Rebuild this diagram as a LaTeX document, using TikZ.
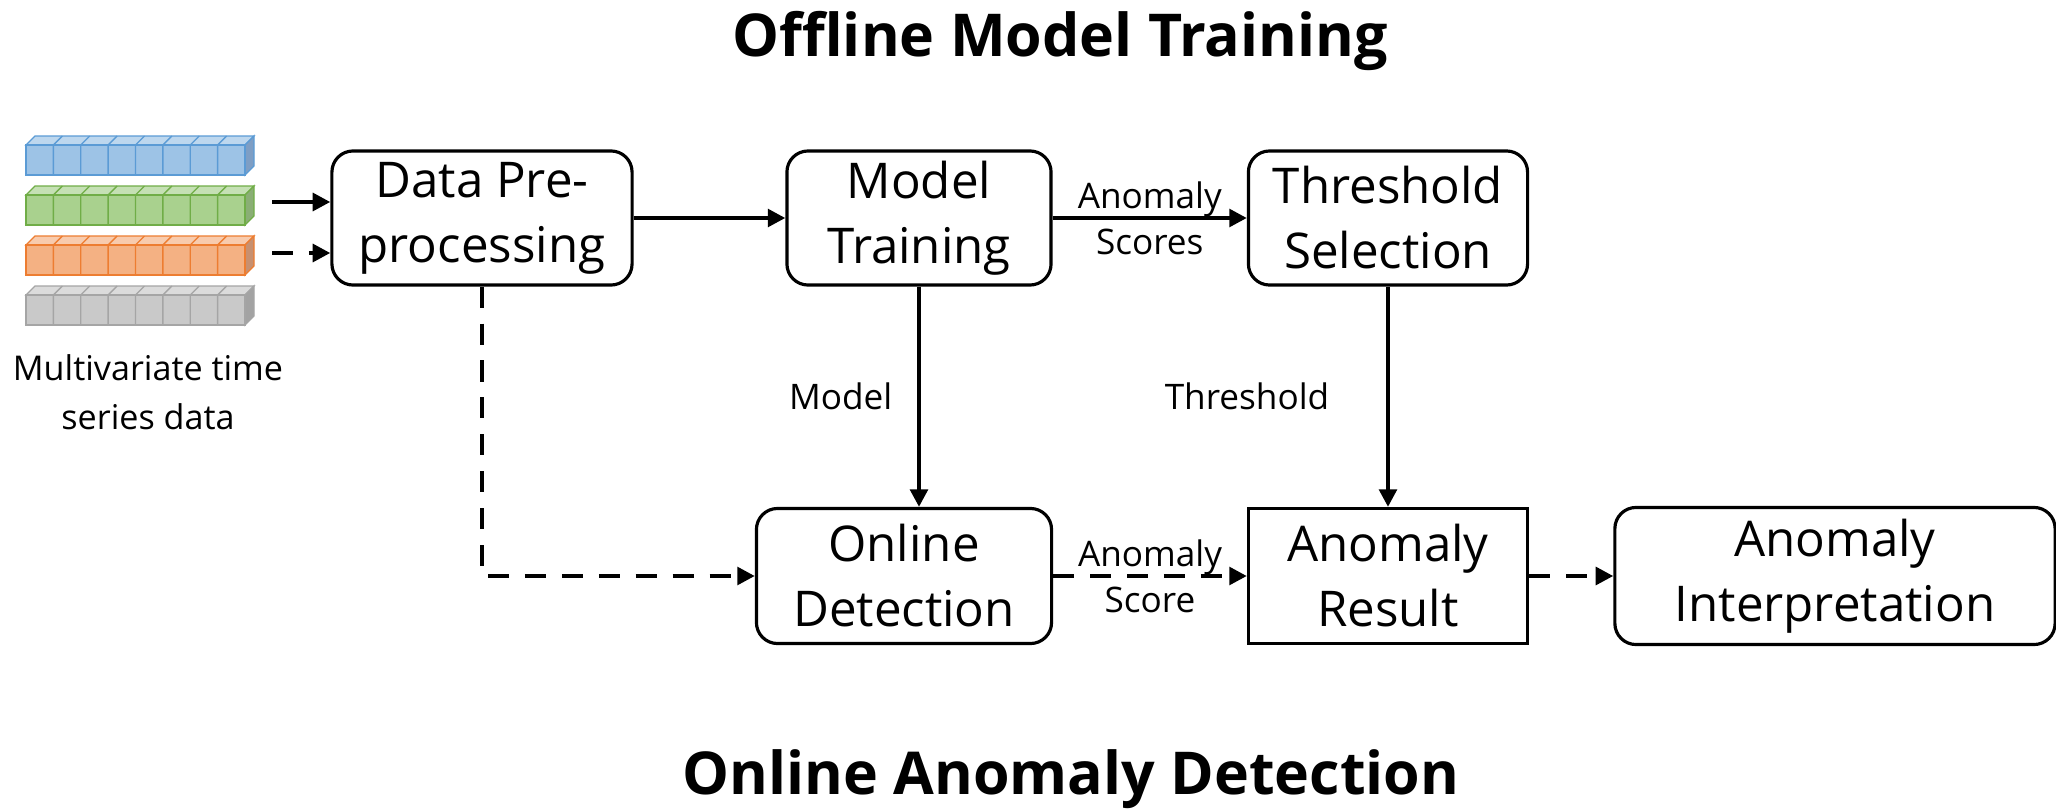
\documentclass[tikz,border=0pt]{standalone}
\usepackage{fontspec}
\setmainfont{Open Sans}
\usepackage{xcolor}
\usepackage{tikz}
\usetikzlibrary{arrows.meta}

\definecolor{blueFr}{HTML}{9DC3E6}\definecolor{blueEd}{HTML}{5B9BD5}
\definecolor{blueTp}{HTML}{BDD7EE}\definecolor{blueSd}{HTML}{7E9EC4}
\definecolor{greenFr}{HTML}{A9D18E}\definecolor{greenEd}{HTML}{70AD47}
\definecolor{greenTp}{HTML}{C5E0B4}\definecolor{greenSd}{HTML}{8AAE75}
\definecolor{orangeFr}{HTML}{F4B183}\definecolor{orangeEd}{HTML}{ED7D31}
\definecolor{orangeTp}{HTML}{F8CBAD}\definecolor{orangeSd}{HTML}{C79070}
\definecolor{grayFr}{HTML}{C9C9C9}\definecolor{grayEd}{HTML}{A5A5A5}
\definecolor{grayTp}{HTML}{DBDBDB}\definecolor{graySd}{HTML}{A3A3A3}

\tikzset{
    box/.style={draw, line width=0.9pt, rounded corners=6pt, align=center,
        inner sep=0pt, font=\fontsize{14}{18.5}\selectfont},
    flow/.style={-{Triangle[length=5pt, width=5pt]}, line width=1.15pt},
    dflow/.style={flow, dash pattern=on 6pt off 4.5pt},
    lbl/.style={align=center, font=\fontsize{10}{13}\selectfont},
    title/.style={anchor=base, font=\fontsize{16.8}{20}\selectfont\bfseries},
}

\begin{document}
\begin{tikzpicture}[x=0.01cm, y=-0.01cm]
    \useasboundingbox (0,0) rectangle (2056,809);

    % time series strips
    \foreach \c [count=\i from 0] in {blue,green,orange,gray} {
        \pgfmathsetmacro{\yy}{145+50*\i}
        \draw[draw=\c Ed, fill=\c Tp, line width=0.4pt] (26,\yy) -- (35,\yy-9) -- (254,\yy-9) -- (245,\yy) -- cycle;
        \draw[draw=\c Ed, fill=\c Sd, line width=0.4pt] (245,\yy) -- (254,\yy-9) -- (254,\yy+21) -- (245,\yy+30) -- cycle;
        \draw[draw=\c Ed, fill=\c Fr, line width=0.4pt] (26,\yy) rectangle (245,\yy+30);
        \foreach \k in {1,...,7}
            \draw[draw=\c Ed, line width=0.4pt] (26+27.375*\k,\yy+30) -- (26+27.375*\k,\yy) -- (35+27.375*\k,\yy-9);
    }
    \node[lbl, font=\fontsize{9.7}{14}\selectfont] (mts) at (148,392) {Multivariate time\\series data};

    \coordinate (in1) at (272,202);
    \coordinate (in2) at (272,253);

    \node[box, minimum width=3cm, minimum height=1.34cm] (pre) at (482,218) {Data Pre-\\processing};
    \node[box, minimum width=2.64cm, minimum height=1.34cm] (train) at (919,218) {Model\\Training};
    \node[box, minimum width=2.79cm, minimum height=1.34cm] (thr) at (1388,218) {Threshold\\Selection};
    \node[box, minimum width=2.95cm, minimum height=1.35cm] (online) at (904,576) {Online\\Detection};
    \node[box, rounded corners=0pt, minimum width=2.79cm, minimum height=1.35cm] (result) at (1388,576) {Anomaly\\Result};
    \node[box, minimum width=4.4cm, minimum height=1.37cm] (interp) at (1835,576) {Anomaly\\Interpretation};

    \node[title] (offline) at (1060,57) {Offline Model Training};
    \node[title] (onlineT) at (1071,794) {Online Anomaly Detection};

    \draw[flow] (in1) -- (in1 -| pre.west);
    \draw[dflow] (in2) -- (in2 -| pre.west);
    \draw[flow] (pre) -- (train);
    \draw[flow] (train) -- node[lbl] {Anomaly\\Scores} (thr);
    \draw[flow] (train.south) -- node[lbl, left=0.13cm] {Model} (train.south |- online.north);
    \draw[flow] (thr) -- node[lbl, left=0.45cm] {Threshold} (result);
    \draw[dflow] (pre.south) |- (online.west);
    \draw[dflow] (online) -- node[lbl] {Anomaly\\Score} (result);
    \draw[dflow] (result) -- (interp);

\end{tikzpicture}
\end{document}
